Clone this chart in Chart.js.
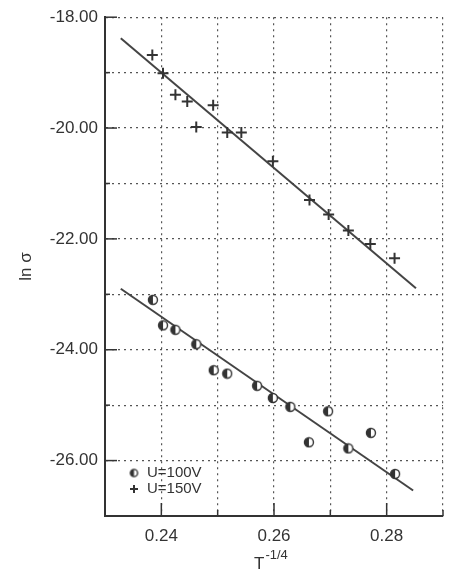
<!DOCTYPE html>
<html>
<head>
<meta charset="utf-8">
<script src="https://cdn.jsdelivr.net/npm/chart.js@4/dist/chart.umd.min.js"></script>
<style>
  html, body { margin: 0; padding: 0; background: #fff; }
  #wrap { width: 453px; height: 571px; }
</style>
</head>
<body>
<div id="wrap"><canvas id="c" width="453" height="571"></canvas></div>
<script>
// U=100V measured points
const x100 = [0.2385, 0.2403, 0.2425, 0.2462, 0.2493, 0.2517, 0.2570, 0.2598, 0.2629, 0.2662, 0.2696, 0.2732, 0.2772, 0.2815];
const y100 = [-23.10, -23.56, -23.64, -23.90, -24.37, -24.43, -24.65, -24.87, -25.03, -25.67, -25.11, -25.78, -25.50, -26.24];
// U=150V measured points
const x150 = [0.2384, 0.2403, 0.2425, 0.2446, 0.2462, 0.2492, 0.2517, 0.2542, 0.2598, 0.2663, 0.2697, 0.2732, 0.2771, 0.2814];
const y150 = [-18.68, -19.01, -19.40, -19.52, -19.98, -19.59, -20.08, -20.08, -20.60, -21.30, -21.56, -21.85, -22.09, -22.35];
// fitted lines (end points)
const fit100X = [0.2328, 0.2847];
const fit100Y = [-22.90, -26.54];
const fit150X = [0.2328, 0.2852];
const fit150Y = [-18.38, -22.89];

const seriesNames = ['U=100V', 'U=150V'];
const xTitle = 'T';
const xTitleSup = '-1/4';
const yTitle = 'ln \u03c3';

const ink = '#333';
const font = '"Liberation Sans", Arial, sans-serif';

const pts = (xs, ys) => xs.map((x, i) => ({ x: x, y: ys[i] }));

// half filled circle marker
function halfCircle(r) {
  const c = document.createElement('canvas');
  const s = Math.ceil(r * 2 + 3);
  c.width = s; c.height = s;
  const g = c.getContext('2d');
  const m = s / 2;
  g.fillStyle = '#fff';
  g.beginPath(); g.arc(m, m, r, 0, Math.PI * 2); g.fill();
  g.fillStyle = ink;
  g.beginPath(); g.arc(m, m, r, Math.PI / 2, Math.PI * 1.5); g.closePath(); g.fill();
  g.strokeStyle = ink; g.lineWidth = 1.4;
  g.beginPath(); g.arc(m, m, r, 0, Math.PI * 2); g.stroke();
  return c;
}
const circleImg = halfCircle(4.5);
const legendCircle = halfCircle(3.6);

// inward tick marks, legend and x title
const extras = {
  id: 'extras',
  afterDraw(chart) {
    const ctx = chart.ctx;
    const a = chart.chartArea;
    const xs = chart.scales.x, ys = chart.scales.y;
    ctx.save();
    ctx.strokeStyle = ink;
    ctx.lineWidth = 1.5;
    ys.ticks.forEach(t => {
      const py = ys.getPixelForValue(t.value);
      const len = Math.round(t.value) % 2 === 0 ? 12 : 5;
      ctx.beginPath(); ctx.moveTo(a.left, py); ctx.lineTo(a.left + len, py); ctx.stroke();
    });
    xs.ticks.forEach(t => {
      const px = xs.getPixelForValue(t.value);
      const len = Math.round(t.value * 100) % 2 === 0 ? 13 : 6;
      ctx.beginPath(); ctx.moveTo(px, a.bottom); ctx.lineTo(px, a.bottom - len); ctx.stroke();
    });

    // legend
    ctx.fillStyle = ink;
    ctx.font = '15px ' + font;
    ctx.textBaseline = 'middle';
    ctx.textAlign = 'left';
    const lx = a.left + 29, ly = a.bottom - 43;
    ctx.drawImage(legendCircle, lx - legendCircle.width / 2, ly - legendCircle.height / 2);
    ctx.fillText(seriesNames[0], lx + 13, ly);
    ctx.lineWidth = 2;
    ctx.beginPath();
    ctx.moveTo(lx - 4, ly + 16); ctx.lineTo(lx + 4, ly + 16);
    ctx.moveTo(lx, ly + 12); ctx.lineTo(lx, ly + 20);
    ctx.stroke();
    ctx.fillText(seriesNames[1], lx + 13, ly + 16);

    // x title with superscript
    ctx.textBaseline = 'alphabetic';
    ctx.font = '17px ' + font;
    const cx = (a.left + a.right) / 2 - 20;
    ctx.fillText(xTitle, cx, 569);
    const tw = ctx.measureText(xTitle).width;
    ctx.font = '13px ' + font;
    ctx.fillText(xTitleSup, cx + tw + 1, 559);
    ctx.restore();
  }
};

new Chart(document.getElementById('c'), {
  type: 'scatter',
  data: {
    datasets: [
      {
        label: seriesNames[0],
        data: pts(x100, y100),
        pointStyle: circleImg,
        pointRadius: 5
      },
      {
        label: seriesNames[1],
        data: pts(x150, y150),
        pointStyle: 'cross',
        pointRadius: 5.5,
        pointBorderWidth: 2,
        borderColor: ink,
        backgroundColor: ink
      },
      {
        type: 'line',
        data: pts(fit100X, fit100Y),
        borderColor: '#444',
        borderWidth: 2,
        pointRadius: 0,
        fill: false
      },
      {
        type: 'line',
        data: pts(fit150X, fit150Y),
        borderColor: '#444',
        borderWidth: 2,
        pointRadius: 0,
        fill: false
      }
    ]
  },
  options: {
    responsive: false,
    animation: false,
    events: [],
    layout: { padding: { top: 15, right: 8, left: 0, bottom: 0 } },
    plugins: {
      legend: { display: false },
      tooltip: { enabled: false }
    },
    scales: {
      x: {
        type: 'linear',
        min: 0.23,
        max: 0.29,
        afterFit: s => { s.height = 55; },
        ticks: {
          stepSize: 0.01,
          padding: 10,
          color: ink,
          font: { family: font, size: 17 },
          maxRotation: 0,
          autoSkip: false,
          callback: v => Math.round(v * 100) % 2 === 0 ? v.toFixed(2) : ''
        },
        grid: {
          drawTicks: false,
          color: '#555',
          lineWidth: 1.2
        },
        border: { color: ink, width: 2, dash: [2, 4] }
      },
      y: {
        min: -27,
        max: -18,
        afterFit: s => { s.width = 105; },
        ticks: {
          stepSize: 1,
          padding: 7,
          color: ink,
          font: { family: font, size: 17 },
          autoSkip: false,
          callback: v => Math.round(v) % 2 === 0 ? v.toFixed(2) : ''
        },
        grid: {
          drawTicks: false,
          color: '#555',
          lineWidth: 1.2
        },
        border: { color: ink, width: 2, dash: [2, 4] },
        title: {
          display: true,
          text: yTitle,
          color: ink,
          font: { family: font, size: 17 },
          padding: { top: 16 }
        }
      }
    }
  },
  plugins: [extras]
});
</script>
</body>
</html>
